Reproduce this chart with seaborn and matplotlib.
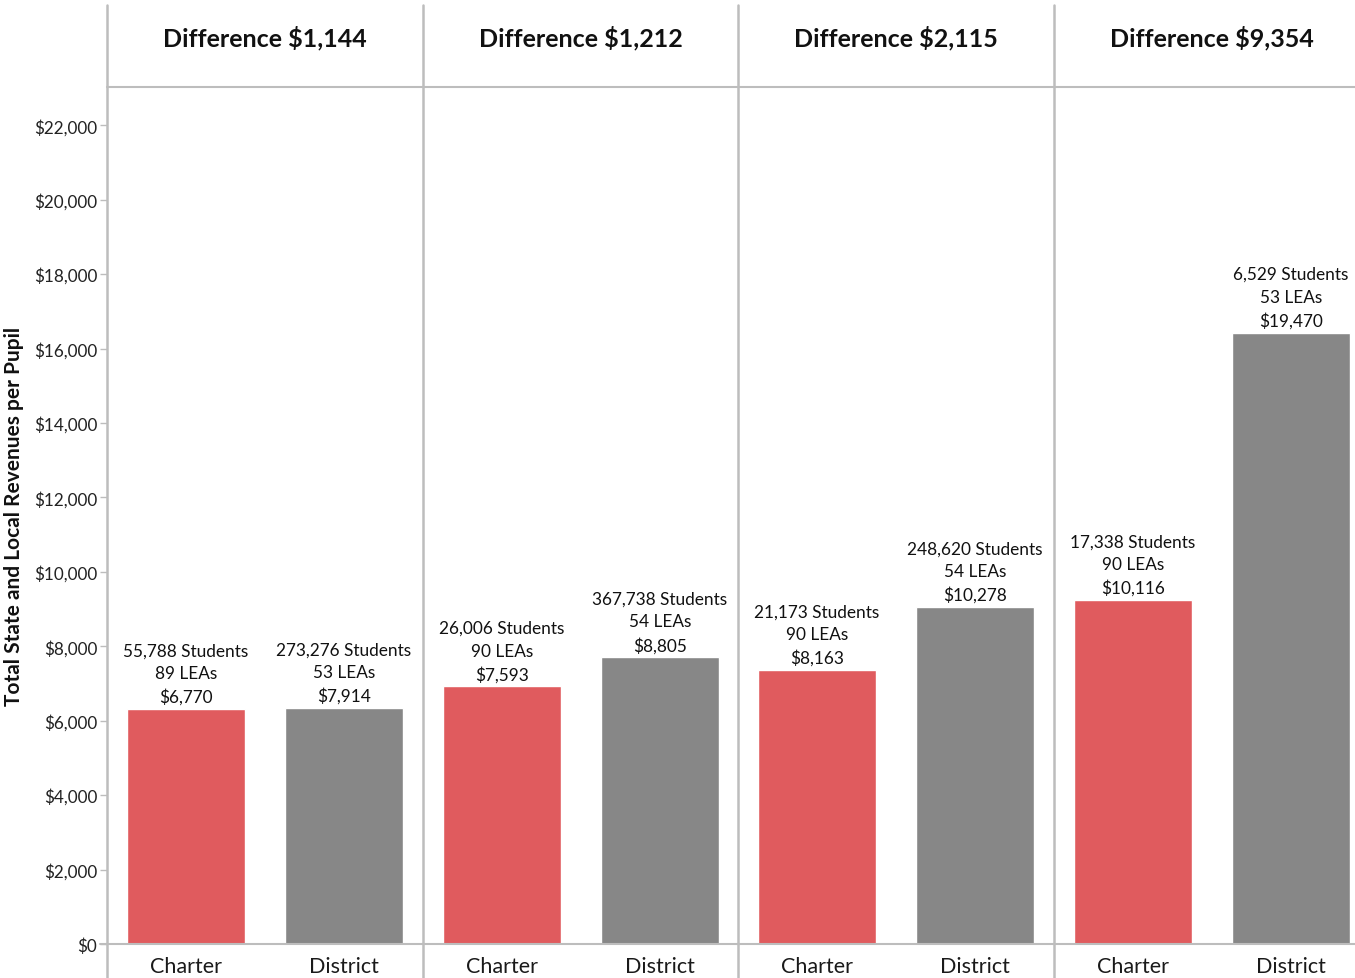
import matplotlib
matplotlib.use("Agg")
import matplotlib.pyplot as plt
from matplotlib.lines import Line2D
import seaborn as sns
import pandas as pd

# ---------------- data ----------------
panel_titles = ["Difference $1,144", "Difference $1,212", "Difference $2,115", "Difference $9,354"]
categories = ["Charter", "District"]
charter_heights = [6320, 6920, 7360, 9240]
district_heights = [6350, 7700, 9050, 16430]
charter_students = ["55,788", "26,006", "21,173", "17,338"]
district_students = ["273,276", "367,738", "248,620", "6,529"]
charter_leas = [89, 90, 90, 90]
district_leas = [53, 54, 54, 53]
charter_labels = ["$6,770", "$7,593", "$8,163", "$10,116"]
district_labels = ["$7,914", "$8,805", "$10,278", "$19,470"]
y_ticks = list(range(0, 22001, 2000))
y_label = "Total State and Local Revenues per Pupil"

# ---------------- style ----------------
sns.set_style("white")
plt.rcParams["font.family"] = ["Lato", "DejaVu Sans"]

W, H = 1355, 979
fig = plt.figure(figsize=(W / 100, H / 100), dpi=100)

def fx(px):
    return px / W

def fy(py):
    return 1 - py / H

RED = "#E05B5E"
GRAY = "#878787"
LINE = "#BDBDBD"

panel_left = [107, 423, 738, 1054]
panel_w = 316
top_px, bot_px = 88, 945

rows = []
for i in range(4):
    rows.append(dict(panel=i, type="Charter", value=charter_heights[i],
                     label=f"{charter_students[i]} Students\n{charter_leas[i]} LEAs\n{charter_labels[i]}"))
    rows.append(dict(panel=i, type="District", value=district_heights[i],
                     label=f"{district_students[i]} Students\n{district_leas[i]} LEAs\n{district_labels[i]}"))
df = pd.DataFrame(rows)

for i in range(4):
    ax = fig.add_axes([fx(panel_left[i]), fy(bot_px), fx(panel_w), (bot_px - top_px) / H])
    sub = df[df.panel == i]
    sns.barplot(data=sub, x="type", y="value", hue="type", order=categories,
                hue_order=categories, palette=[RED, GRAY], width=0.75,
                legend=False, ax=ax, saturation=1)
    ax.set_xlim(-0.5, 1.5)
    ax.set_ylim(0, 23030)
    ax.set_xlabel("")
    ax.set_ylabel("")
    for s in ["top", "right", "left"]:
        ax.spines[s].set_visible(False)
    ax.spines["bottom"].set_color(LINE)
    ax.spines["bottom"].set_linewidth(1.5)
    ax.tick_params(axis="x", length=0, labelsize=15.5, pad=9, labelcolor="#1a1a1a")
    ax.set_xticks([0.5], minor=True)
    ax.tick_params(axis="x", which="minor", length=5, width=1, color=LINE, direction="out")
    if i == 0:
        ax.set_yticks(y_ticks)
        ax.set_yticklabels([f"${v:,}" for v in y_ticks])
        ax.tick_params(axis="y", length=5, width=1, color=LINE, labelsize=12.3,
                       labelcolor="#222222", pad=2, left=True)
        ax.set_ylabel(y_label, fontsize=15, fontweight="bold", labelpad=7, color="#111111")
    else:
        ax.set_yticks([])
    for _, r in sub.iterrows():
        xpos = categories.index(r["type"])
        ax.annotate(r["label"], xy=(xpos, r["value"]), xytext=(0, 3),
                    textcoords="offset points", ha="center", va="bottom",
                    fontsize=12.4, linespacing=1.5, color="#111111")
    fig.text(fx(panel_left[i] + panel_w / 2), fy(38), panel_titles[i],
             ha="center", va="center", fontsize=18, fontweight="bold", color="#111111")

# frame lines
for x in panel_left:
    fig.add_artist(Line2D([fx(x), fx(x)], [fy(6), fy(979)], color=LINE, lw=1.8,
                          transform=fig.transFigure))
fig.add_artist(Line2D([fx(107), fx(1355)], [fy(88), fy(88)], color=LINE, lw=1.5,
                      transform=fig.transFigure))
fig.add_artist(Line2D([fx(100), fx(107)], [fy(945), fy(945)], color=LINE, lw=1.5,
                      transform=fig.transFigure))

fig.savefig("out.png", dpi=100)
